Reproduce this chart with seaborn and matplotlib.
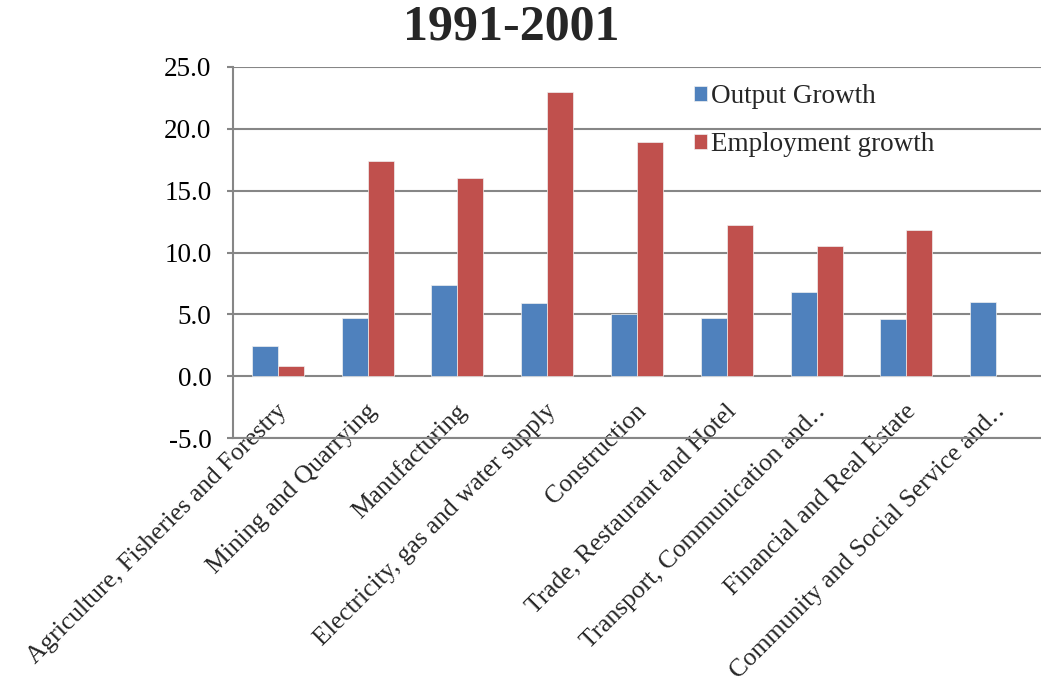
import numpy as np
import pandas as pd
import seaborn as sns
import matplotlib
matplotlib.use("Agg")
import matplotlib.pyplot as plt
from matplotlib.transforms import ScaledTranslation

sectors = [
    "Agriculture, Fisheries and Forestry",
    "Mining and Quarrying",
    "Manufacturing",
    "Electricity, gas and water supply",
    "Construction",
    "Trade, Restaurant and Hotel",
    "Transport, Communication and\u2025",
    "Financial and Real Estate",
    "Community and Social Service and\u2025",
]
output_growth = [2.4, 4.7, 7.4, 5.9, 5.0, 4.7, 6.8, 4.6, 6.0]
employment_growth = [0.8, 17.4, 16.0, 23.0, 18.9, 12.2, 10.5, 11.8, np.nan]
series_names = ["Output Growth", "Employment growth"]
y_ticks = [-5.0, 0.0, 5.0, 10.0, 15.0, 20.0, 25.0]
title = "1991-2001"

df = pd.DataFrame({
    "Sector": sectors * 2,
    "Series": [series_names[0]] * len(sectors) + [series_names[1]] * len(sectors),
    "Value": output_growth + employment_growth,
})

sns.set_theme(style="white")
plt.rcParams["font.family"] = ["Liberation Serif", "DejaVu Serif"]

fig = plt.figure(figsize=(10.41, 6.84), dpi=100)
ax = fig.add_axes([233 / 1041, 1 - 438 / 684, (1041 - 233) / 1041, (438 - 67) / 684])

palette = {series_names[0]: "#4F81BD", series_names[1]: "#C0504D"}
sns.barplot(data=df, x="Sector", y="Value", hue="Series", order=sectors,
            hue_order=series_names, palette=palette, width=0.58, gap=0,
            dodge=True, ax=ax, errorbar=None, saturation=1,
            edgecolor="#f0f0f0", linewidth=0.5)

ax.set_ylim(-5, 25)
ax.set_xlim(-0.5, len(sectors) - 0.5)
ax.set_yticks(y_ticks)
ax.set_yticklabels([f"{v:.1f}" for v in y_ticks], fontsize=19.5)
ax.set_xlabel("")
ax.set_ylabel("")
ax.yaxis.grid(True, color="#868686", linewidth=1.5)
ax.set_axisbelow(True)
for s in ["top", "right"]:
    ax.spines[s].set_visible(False)
for s in ["left", "bottom"]:
    ax.spines[s].set_color("#868686")
    ax.spines[s].set_linewidth(1.5)
ax.tick_params(axis="y", which="major", left=True, length=4, width=1.5,
               color="#868686", pad=11.5, labelcolor="black")
ax.tick_params(axis="x", which="major", bottom=False, length=0)

ax.set_xticks(range(len(sectors)))
ax.set_xticklabels(sectors, fontsize=18.4, rotation=45, ha="right",
                   va="center", rotation_mode="anchor")
offset = ScaledTranslation(6 / 100, 35 / 100, fig.dpi_scale_trans)
for lbl in ax.get_xticklabels():
    lbl.set_transform(lbl.get_transform() + offset)

handles, labels = ax.get_legend_handles_labels()
ax.legend(handles, labels, loc="upper left", bbox_to_anchor=(0.54, 1.02),
          frameon=False, fontsize=19.5, handlelength=0.5, handleheight=0.5,
          handletextpad=0.15, labelspacing=0.85)

fig.text(511 / 1041, 1 - 28 / 684, title, ha="center", va="center",
         fontsize=36, fontweight="bold")

fig.savefig("out.png", dpi=100)
